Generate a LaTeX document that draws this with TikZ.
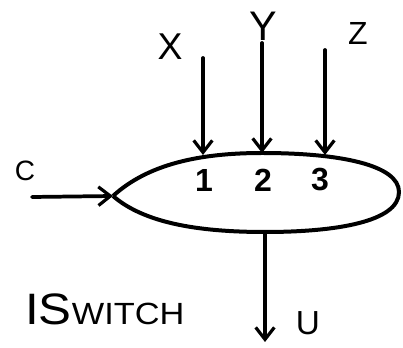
\documentclass[tikz,border=0pt]{standalone}
\usepackage{fontspec}
\setmainfont{Liberation Sans}
\usetikzlibrary{arrows.meta}
\begin{document}
\begin{tikzpicture}[x=0.75pt,y=-0.75pt,
  wire/.style={line width=2.8pt, line cap=round, -{Straight Barb[length=9pt,width=14pt,line width=2.4pt]}},
  lbl/.style={inner sep=0pt, font=\fontsize{28}{30}\selectfont},
  num/.style={inner sep=0pt, font=\fontsize{24}{26}\selectfont\bfseries}]
\useasboundingbox (0,0) rectangle (403,348);
% oval
\draw[line width=3pt] (113,196) .. controls (148,164) and (200,153) .. (262,153)
  .. controls (340,153) and (399,165) .. (399,192)
  .. controls (399,222) and (335,232) .. (265,232)
  .. controls (195,232) and (143,222) .. (113,196);
\coordinate (in1) at (203,155);
\coordinate (in2) at (262,153);
\coordinate (in3) at (325,155);
\coordinate (inc) at (113,196);
\coordinate (out) at (265,232);
\coordinate (sx) at (203,58);
\coordinate (sy) at (262,43);
\coordinate (sz) at (325,50);
\coordinate (sc) at (32,197);
\coordinate (eu) at (265,342);
% labels
\node[lbl] (X) at (170,47) {X};
\node[lbl, font=\fontsize{31}{33}\selectfont] (Y) at (263,26) {Y};
\node[lbl, font=\fontsize{24}{26}\selectfont] (Z) at (358,33) {Z};
\node[lbl, font=\fontsize{21}{23}\selectfont] (C) at (25,171) {C};
\node[lbl, font=\fontsize{25}{27}\selectfont] (U) at (308,323) {U};
\node[num] (n1) at (204,180) {1};
\node[num] (n2) at (263,180) {2};
\node[num] (n3) at (320,180) {3};
\node[inner sep=0pt, anchor=base west] (title) at (25,325)
  {\scalebox{1.12}[1]{\fontsize{33}{35}\selectfont IS\fontsize{23}{25}\selectfont WITCH}};
% arrows
\draw[wire] (sx) -- (in1);
\draw[wire] (sy) -- (in2);
\draw[wire] (sz) -- (in3);
\draw[wire] (sc) -- (inc);
\draw[wire] (out) -- (eu);
\end{tikzpicture}
\end{document}
